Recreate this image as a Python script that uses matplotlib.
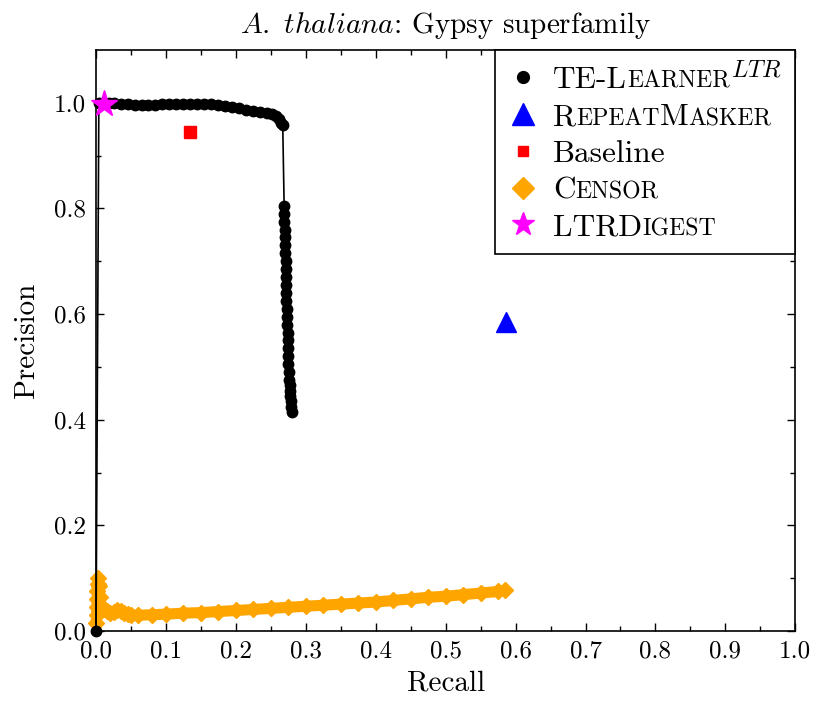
import matplotlib
matplotlib.use("Agg")
import matplotlib.pyplot as plt
from matplotlib.lines import Line2D
from matplotlib.offsetbox import TextArea, HPacker

plt.rcParams['font.family'] = 'serif'
plt.rcParams['font.serif'] = ['cmr10']
plt.rcParams['mathtext.fontset'] = 'cm'
plt.rcParams['axes.formatter.use_mathtext'] = True
plt.rcParams['axes.unicode_minus'] = False

# TE-Learner^LTR precision/recall curve
learner_recall = [0.000, 0.004, 0.010, 0.018, 0.025, 0.035, 0.045, 0.055, 0.065, 0.075,
                  0.085, 0.095, 0.105, 0.115, 0.125, 0.135, 0.145, 0.155, 0.165, 0.175,
                  0.185, 0.195, 0.205, 0.215, 0.225, 0.235, 0.245, 0.252, 0.258, 0.262,
                  0.265, 0.267, 0.269, 0.269, 0.269, 0.270, 0.270, 0.270, 0.270, 0.271,
                  0.271, 0.271, 0.272, 0.272, 0.272, 0.273, 0.273, 0.273, 0.274, 0.274,
                  0.274, 0.275, 0.275, 0.276, 0.276, 0.277, 0.278, 0.278, 0.279, 0.279, 0.280]
learner_prec = [0.000, 1.000, 1.000, 0.999, 1.000, 0.998, 0.997, 0.996, 0.995, 0.996,
                0.996, 0.997, 0.997, 0.997, 0.998, 0.997, 0.997, 0.998, 0.997, 0.995,
                0.993, 0.991, 0.989, 0.987, 0.985, 0.983, 0.981, 0.979, 0.975, 0.969,
                0.962, 0.957, 0.804, 0.790, 0.775, 0.760, 0.745, 0.730, 0.715, 0.700,
                0.685, 0.670, 0.655, 0.640, 0.625, 0.610, 0.595, 0.580, 0.565, 0.550,
                0.535, 0.520, 0.505, 0.490, 0.475, 0.465, 0.455, 0.445, 0.435, 0.425, 0.415]

# Censor curve
censor_recall = [0.000, 0.001, 0.001, 0.002, 0.002, 0.003, 0.003, 0.004, 0.005, 0.006,
                 0.008, 0.012, 0.016, 0.020, 0.025, 0.030, 0.035, 0.040, 0.045, 0.050,
                 0.060, 0.080, 0.100, 0.125, 0.150, 0.175, 0.200, 0.225, 0.250, 0.275,
                 0.300, 0.325, 0.350, 0.375, 0.400, 0.425, 0.450, 0.475, 0.500, 0.525,
                 0.550, 0.575, 0.585]
censor_prec = [0.015, 0.030, 0.045, 0.060, 0.075, 0.090, 0.100, 0.085, 0.065, 0.050,
               0.045, 0.042, 0.038, 0.034, 0.036, 0.040, 0.038, 0.035, 0.032, 0.030,
               0.030, 0.031, 0.032, 0.034, 0.035, 0.037, 0.039, 0.041, 0.043, 0.045,
               0.047, 0.049, 0.051, 0.053, 0.055, 0.058, 0.061, 0.064, 0.066, 0.069,
               0.072, 0.075, 0.077]

# single-point methods
repeatmasker_pt = (0.587, 0.585)
baseline_pt = (0.134, 0.945)
ltrdigest_pt = (0.011, 0.998)

x_ticks = [0.0, 0.1, 0.2, 0.3, 0.4, 0.5, 0.6, 0.7, 0.8, 0.9, 1.0]
y_ticks = [0.0, 0.2, 0.4, 0.6, 0.8, 1.0]

FS = 21
LFS = 22.5

fig = plt.figure(figsize=(8.14, 7.02), dpi=100)
ax = fig.add_axes([0.118, 0.101, 0.859, 0.828])

ax.plot(censor_recall, censor_prec, color='orange', lw=8, marker='D', ms=8,
        solid_capstyle='round', solid_joinstyle='round', zorder=2, clip_on=False)
ax.plot(learner_recall, learner_prec, color='black', lw=1.2, marker='o', ms=7.5,
        zorder=3, clip_on=False)
ax.plot(*baseline_pt, 's', color='red', ms=8, zorder=4)
ax.plot(*repeatmasker_pt, '^', color='blue', ms=15, zorder=4)
ax.plot(*ltrdigest_pt, '*', color='magenta', ms=20, zorder=5, clip_on=False)

ax.set_xlim(0, 1.0)
ax.set_ylim(0, 1.1)
ax.set_xticks(x_ticks)
ax.set_yticks(y_ticks)
ax.set_xticks([x + 0.05 for x in x_ticks[:-1]], minor=True)
ax.set_yticks([y + 0.1 for y in y_ticks[:-1]], minor=True)
ax.set_xticklabels([f'{v:.1f}' for v in x_ticks])
ax.set_yticklabels([f'{v:.1f}' for v in y_ticks])
ax.tick_params(which='both', direction='in', top=True, right=True, labelsize=18, pad=7)
ax.tick_params(which='major', length=6, width=1)
ax.tick_params(which='minor', length=3.5, width=1)
for s in ax.spines.values():
    s.set_linewidth(1.2)

ax.set_xlabel('Recall', fontsize=FS, labelpad=5)
ax.set_ylabel('Precision', fontsize=FS, labelpad=10)
ax.set_title(r'$A.\ thaliana$: Gypsy superfamily', fontsize=FS, pad=12)

# legend labels as (text, style) pieces: 'n' normal, 'sc' small caps, 'm' math
label_parts = [[('TE-L', 'n'), ('EARNER', 'sc'), ('${}^{LTR}$', 'm')],
               [('R', 'n'), ('EPEAT', 'sc'), ('M', 'n'), ('ASKER', 'sc')],
               [('Baseline', 'n')],
               [('C', 'n'), ('ENSOR', 'sc')],
               [('LTRD', 'n'), ('IGEST', 'sc')]]
handles = [
    Line2D([], [], ls='none', marker='o', color='black', ms=8.5),
    Line2D([], [], ls='none', marker='^', color='blue', ms=16),
    Line2D([], [], ls='none', marker='s', color='red', ms=7.5),
    Line2D([], [], ls='none', marker='D', color='orange', ms=11),
    Line2D([], [], ls='none', marker='*', color='magenta', ms=17),
]
leg = ax.legend(handles, [''.join(p for p, _ in parts) for parts in label_parts],
                loc='upper right', fontsize=LFS, frameon=True, fancybox=False,
                edgecolor='black', framealpha=1, borderaxespad=0, borderpad=0.42,
                handlelength=0.95, handletextpad=0.5, labelspacing=0.28)
leg.get_frame().set_linewidth(1.2)

sizes = {'n': LFS, 'sc': LFS * 0.76, 'm': LFS * 1.1}
rows = [r for col in leg._legend_handle_box.get_children() for r in col.get_children()]
for row, parts in zip(rows, label_parts):
    pieces = [TextArea(p, textprops=dict(fontsize=sizes[st], color='black'))
              for p, st in parts]
    box = HPacker(children=pieces, align='baseline', pad=0, sep=0)
    box.set_figure(fig)
    row.get_children()[1] = box

fig.savefig('out.png', dpi=100)
